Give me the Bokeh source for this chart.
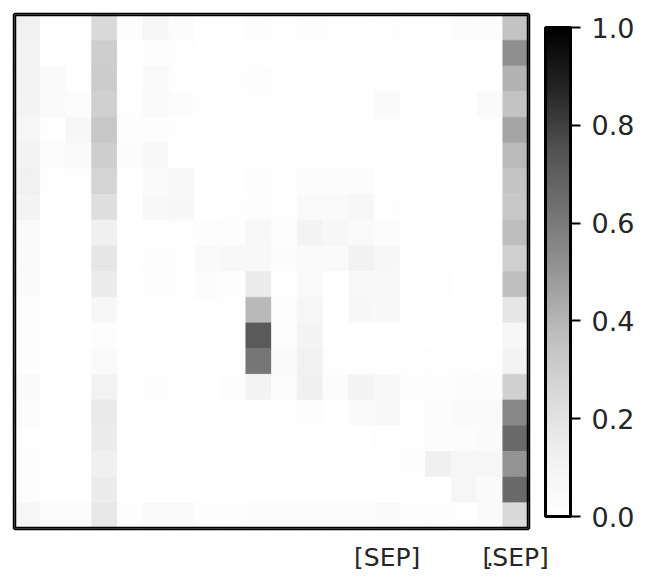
import numpy as np
from bokeh.plotting import figure
from bokeh.models import (ColumnDataSource, LinearColorMapper, ColorBar, FixedTicker,
                          Range1d, PrintfTickFormatter, BoxAnnotation)
from bokeh.embed import file_html
from bokeh.resources import INLINE

tokens = ["", "", "", "", "", "", "", "", "", "", "", "", "", "", "[SEP]", "", "", "", ".", "[SEP]"]

row_00 = [0.12, 0, 0, 0.245, 0.02, 0.08, 0.03, 0, 0, 0.02, 0, 0.02, 0.008, 0.008, 0.015, 0, 0, 0.03, 0.03, 0.35]
row_01 = [0.10, 0, 0, 0.30, 0, 0.02, 0.008, 0, 0, 0, 0, 0, 0, 0, 0, 0, 0, 0, 0, 0.53]
row_02 = [0.10, 0.04, 0.008, 0.31, 0, 0.045, 0.008, 0.008, 0.008, 0.02, 0, 0, 0, 0, 0, 0, 0, 0, 0, 0.41]
row_03 = [0.09, 0.045, 0.03, 0.29, 0.015, 0.04, 0.03, 0.015, 0.015, 0.015, 0.015, 0.015, 0.015, 0.008, 0.04, 0.008, 0, 0, 0.04, 0.35]
row_04 = [0.08, 0.015, 0.07, 0.33, 0.02, 0.02, 0.008, 0, 0, 0, 0, 0, 0, 0, 0, 0, 0, 0, 0, 0.45]
row_05 = [0.09, 0.03, 0.04, 0.30, 0.03, 0.055, 0, 0, 0, 0.015, 0, 0, 0, 0, 0, 0, 0, 0, 0, 0.385]
row_06 = [0.12, 0.008, 0.008, 0.27, 0, 0.045, 0.055, 0, 0, 0.02, 0, 0.03, 0.03, 0.03, 0, 0, 0, 0, 0, 0.34]
row_07 = [0.10, 0, 0, 0.22, 0, 0.055, 0.07, 0, 0.015, 0.02, 0.015, 0.04, 0.04, 0.07, 0.015, 0, 0, 0, 0, 0.33]
row_08 = [0.04, 0, 0, 0.125, 0, 0, 0.015, 0.02, 0.02, 0.055, 0.02, 0.10, 0.07, 0.04, 0.03, 0, 0, 0, 0, 0.37]
row_09 = [0.04, 0, 0, 0.18, 0, 0.02, 0.008, 0.04, 0.06, 0.06, 0.03, 0.04, 0.04, 0.11, 0.07, 0, 0, 0, 0, 0.29]
row_10 = [0.04, 0, 0, 0.15, 0, 0.02, 0.008, 0.03, 0.02, 0.15, 0.015, 0.045, 0, 0.055, 0.055, 0, 0.015, 0, 0, 0.365]
row_11 = [0.02, 0, 0, 0.07, 0, 0.015, 0, 0.015, 0.015, 0.39, 0.02, 0.08, 0, 0.07, 0.06, 0, 0, 0, 0, 0.18]
row_12 = [0.02, 0, 0, 0.02, 0, 0, 0, 0.008, 0, 0.72, 0.02, 0.09, 0, 0, 0, 0, 0, 0, 0, 0.07]
row_13 = [0.02, 0, 0, 0.04, 0, 0, 0, 0.008, 0, 0.615, 0.045, 0.115, 0.008, 0.008, 0.008, 0.008, 0.008, 0.008, 0.008, 0.10]
row_14 = [0.045, 0, 0, 0.10, 0, 0.02, 0, 0, 0.02, 0.10, 0.03, 0.125, 0.03, 0.09, 0.06, 0.02, 0.02, 0.03, 0.03, 0.29]
row_15 = [0.03, 0, 0, 0.16, 0, 0, 0, 0, 0, 0, 0, 0.02, 0, 0.045, 0.055, 0.015, 0.03, 0.045, 0.04, 0.55]
row_16 = [0.008, 0, 0, 0.15, 0, 0, 0, 0, 0, 0, 0, 0, 0, 0, 0.015, 0.015, 0.03, 0.03, 0.04, 0.66]
row_17 = [0.02, 0, 0, 0.125, 0, 0, 0, 0, 0, 0, 0, 0, 0, 0, 0, 0.02, 0.125, 0.08, 0.08, 0.51]
row_18 = [0.02, 0, 0, 0.15, 0, 0, 0, 0, 0, 0, 0, 0, 0, 0, 0, 0, 0, 0.08, 0.04, 0.66]
row_19 = [0.08, 0.03, 0.03, 0.17, 0.02, 0.04, 0.04, 0.02, 0.02, 0.03, 0.03, 0.03, 0.03, 0.03, 0.04, 0.02, 0.02, 0.008, 0.04, 0.245]

rows = [row_00, row_01, row_02, row_03, row_04, row_05, row_06, row_07, row_08, row_09,
        row_10, row_11, row_12, row_13, row_14, row_15, row_16, row_17, row_18, row_19]

n = len(tokens)
xs, ys, vs = [], [], []
for r, row in enumerate(rows):
    for c, v in enumerate(row):
        xs.append(c + 0.5)
        ys.append(r + 0.5)
        vs.append(v)
src = ColumnDataSource(dict(x=xs, y=ys, v=vs))

# matplotlib-like "Greys" colormap (white -> black)
anchors = ["#ffffff", "#f0f0f0", "#d9d9d9", "#bdbdbd", "#969696", "#737373", "#525252", "#252525", "#000000"]
rgb = np.array([[int(a[i:i + 2], 16) for i in (1, 3, 5)] for a in anchors], dtype=float)
t_a = np.linspace(0, 1, len(anchors))
t = np.linspace(0, 1, 256)
palette = ["#%02x%02x%02x" % tuple(int(round(np.interp(tt, t_a, rgb[:, k]))) for k in range(3)) for tt in t]
mapper = LinearColorMapper(palette=palette, low=0, high=1)

p = figure(frame_width=514, frame_height=514, output_backend="svg", toolbar_location=None,
           x_range=Range1d(0, n), y_range=Range1d(n, 0),
           min_border_left=14, min_border_top=14, min_border_right=2, min_border_bottom=0)
p.rect(x="x", y="y", width=1, height=1, source=src,
       fill_color={"field": "v", "transform": mapper},
       line_color={"field": "v", "transform": mapper}, line_width=0.6)

p.grid.visible = False
p.yaxis.visible = False
p.xaxis.ticker = FixedTicker(ticks=[i + 0.5 for i in range(n)])
p.xaxis.major_label_overrides = {i + 0.5: tok for i, tok in enumerate(tokens)}
p.xaxis.major_tick_line_color = None
p.xaxis.minor_tick_line_color = None
p.xaxis.axis_line_color = None
p.xaxis.major_label_text_font = "DejaVu Sans"
p.xaxis.major_label_text_font_size = "25px"
p.xaxis.major_label_text_color = "#262626"
p.xaxis.major_label_standoff = 8
p.outline_line_color = "black"
p.outline_line_width = 3.5
p.outline_line_alpha = 1

# frame border drawn on top of the cells (spans the whole frame)
p.add_layout(BoxAnnotation(fill_alpha=0, line_color="black", line_width=3.5, line_alpha=1))

cb = ColorBar(color_mapper=mapper, width=25, height=489,
              ticker=FixedTicker(ticks=[0, 0.2, 0.4, 0.6, 0.8, 1.0]),
              formatter=PrintfTickFormatter(format="%.1f"),
              major_label_text_font="DejaVu Sans",
              major_label_text_font_size="27px",
              major_label_text_color="#262626",
              major_tick_line_color="black", major_tick_in=0, major_tick_out=10,
              major_tick_line_width=2,
              minor_tick_line_color=None,
              bar_line_color="black", bar_line_width=3,
              label_standoff=11, padding=0, margin=0,
              location=(17, 12))
p.add_layout(cb, "right")

open("out.html", "w").write(file_html(p, INLINE))
